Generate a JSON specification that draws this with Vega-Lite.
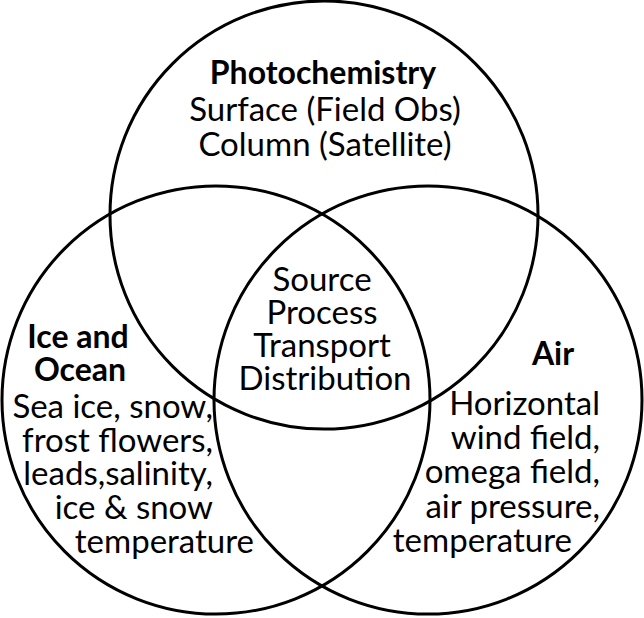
{
  "$schema": "https://vega.github.io/schema/vega-lite/v6.json",
  "width": 644,
  "height": 618,
  "autosize": "none",
  "padding": 0,
  "background": "white",
  "config": {"view": {"stroke": null}},
  "datasets": {
    "circles": [
      {"set": "Photochemistry", "cx": 324, "cy": 215},
      {"set": "Ice and Ocean", "cx": 216, "cy": 400},
      {"set": "Air", "cx": 428, "cy": 400}
    ],
    "labels": [
      {"kind": "title", "text": "Photochemistry", "x": 323, "y": 74},
      {"kind": "center", "text": "Surface (Field Obs)", "x": 325, "y": 111},
      {"kind": "center", "text": "Column (Satellite)", "x": 325, "y": 146},
      {"kind": "center", "text": "Source", "x": 322, "y": 281},
      {"kind": "center", "text": "Process", "x": 322, "y": 314},
      {"kind": "center", "text": "Transport", "x": 322, "y": 347},
      {"kind": "center", "text": "Distribution", "x": 325, "y": 380},
      {"kind": "title", "text": "Ice and", "x": 78, "y": 338},
      {"kind": "title", "text": "Ocean", "x": 80, "y": 371},
      {"kind": "right", "text": "Sea ice, snow,", "x": 213, "y": 408},
      {"kind": "right", "text": "frost flowers,", "x": 213, "y": 442},
      {"kind": "right", "text": "leads,salinity,", "x": 213, "y": 475},
      {"kind": "right", "text": "ice & snow", "x": 213, "y": 509},
      {"kind": "right", "text": "temperature", "x": 254, "y": 543},
      {"kind": "title", "text": "Air", "x": 553, "y": 355},
      {"kind": "right", "text": "Horizontal", "x": 600, "y": 405},
      {"kind": "right", "text": "wind field,", "x": 600, "y": 439},
      {"kind": "right", "text": "omega field,", "x": 600, "y": 473},
      {"kind": "right", "text": "air pressure,", "x": 600, "y": 508},
      {"kind": "right", "text": "temperature", "x": 572, "y": 542}
    ]
  },
  "encoding": {
    "x": {"field": "x", "type": "quantitative", "scale": {"domain": [0, 644], "nice": false, "zero": false}, "axis": null},
    "y": {"field": "y", "type": "quantitative", "scale": {"domain": [0, 618], "nice": false, "zero": false, "reverse": true}, "axis": null}
  },
  "layer": [
    {
      "data": {"name": "circles"},
      "mark": {"type": "point", "shape": "circle", "filled": false, "stroke": "black", "strokeWidth": 3, "size": 183184, "opacity": 1},
      "encoding": {
        "x": {"field": "cx", "type": "quantitative"},
        "y": {"field": "cy", "type": "quantitative"}
      }
    },
    {
      "data": {"name": "labels"},
      "transform": [{"filter": "datum.kind === 'title'"}],
      "mark": {"type": "text", "font": "Lato", "fontWeight": "bold", "fontSize": 32, "align": "center", "baseline": "middle", "color": "black"},
      "encoding": {
        "text": {"field": "text"}
      }
    },
    {
      "data": {"name": "labels"},
      "transform": [{"filter": "datum.kind === 'center'"}],
      "mark": {"type": "text", "font": "Lato", "fontSize": 33, "align": "center", "baseline": "middle", "color": "black"},
      "encoding": {
        "text": {"field": "text"}
      }
    },
    {
      "data": {"name": "labels"},
      "transform": [{"filter": "datum.kind === 'right'"}],
      "mark": {"type": "text", "font": "Lato", "fontSize": 33, "align": "right", "baseline": "middle", "color": "black"},
      "encoding": {
        "text": {"field": "text"}
      }
    }
  ]
}
